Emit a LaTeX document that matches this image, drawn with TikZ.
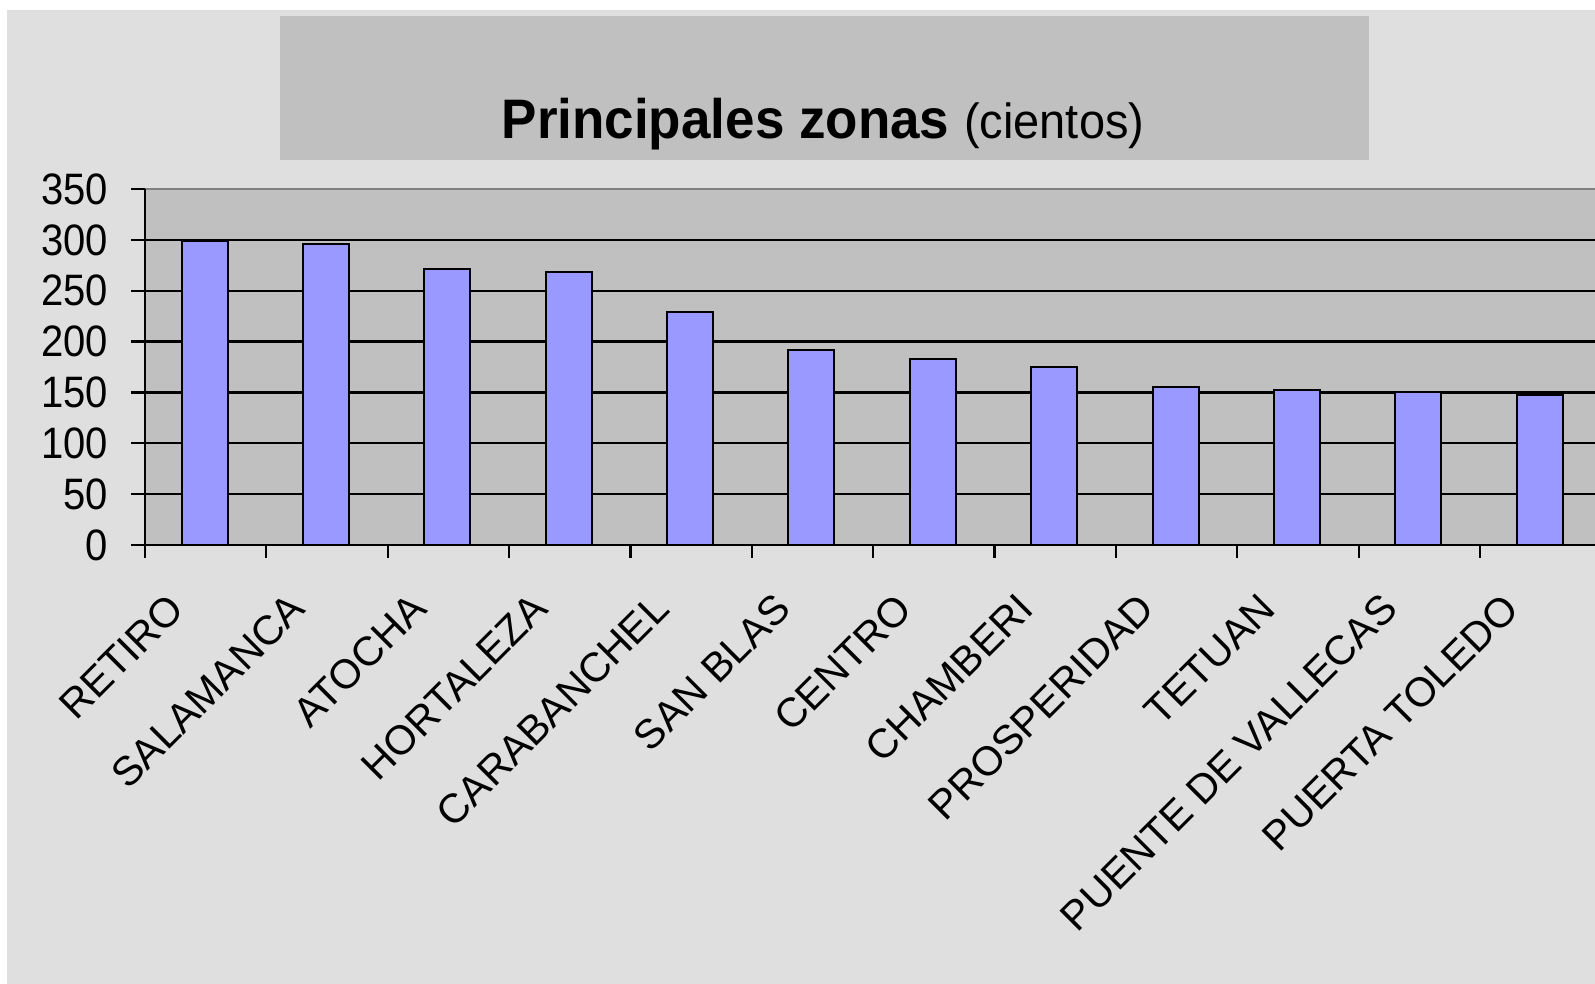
\documentclass[tikz,border=0pt]{standalone}
\usepackage{graphicx}
\usepackage{fontspec}
\setmainfont{Liberation Sans}
\definecolor{bgc}{HTML}{DFDFDF}
\definecolor{plotc}{HTML}{C0C0C0}
\definecolor{barc}{HTML}{9999FF}
\definecolor{borderc}{HTML}{808080}
\begin{document}
\begin{tikzpicture}[x=1pt,y=-1pt,
  barbox/.style={draw=black,line width=2pt,fill=barc},
  gridline/.style={draw=black,line width=2.2pt},
  axisline/.style={draw=black,line width=2.2pt},
  ylab/.style={anchor=east,inner sep=0pt,font=\fontsize{40}{40}\selectfont},
  catlab/.style={anchor=north east,rotate=45,inner sep=0pt,font=\fontsize{41}{41}\selectfont}]
\useasboundingbox (0,0) rectangle (1595,984);
\fill[white] (0,0) rectangle (1595,984);
\fill[bgc] (7,10) rectangle (1595,984);
% title
\fill[plotc] (280,16) rectangle (1369,160);
\node[anchor=base,inner sep=0pt] (title) at (823,139)
  {\scalebox{1}[1.05]{\fontsize{53}{53}\selectfont\textbf{Principales zonas} \fontsize{47}{47}\selectfont(cientos)}};
% plot area
\begin{scope}
\clip (0,0) rectangle (1595,984);
\fill[plotc] (145,189) rectangle (1610,545);
\draw[draw=borderc,line width=2pt] (145,189) -- (1610,189);
\foreach \v in {50,100,...,300} {
  \draw[gridline] (145,{545-1.01714*\v}) -- (1610,{545-1.01714*\v});
}
\foreach \lbl/\val [count=\i from 0] in {RETIRO/299,SALAMANCA/296,ATOCHA/271,HORTALEZA/268,CARABANCHEL/229.5,SAN BLAS/191.7,CENTRO/183,CHAMBERI/175.3,PROSPERIDAD/155.6,TETUAN/152.4,PUENTE DE VALLECAS/150,PUERTA TOLEDO/147.5} {
  \pgfmathsetmacro{\cx}{145+121.36*(\i+0.5)}
  \draw[barbox] ({\cx-24},545) rectangle ({\cx+22},{545-1.01714*\val});
  \node[catlab] (cat\i) at ({\cx-40},591) {\lbl};
}
\draw[axisline] (131,545) -- (1610,545);
\foreach \i in {1,...,11} {
  \draw[axisline] ({145+121.36*\i},545) -- ({145+121.36*\i},558);
}
\end{scope}
\draw[axisline] (145,189) -- (145,558);
\foreach \v in {0,50,...,350} {
  \draw[axisline] (131,{545-1.01714*\v}) -- (145,{545-1.01714*\v});
  \node[ylab] (y\v) at (108,{545-1.01714*\v}) {\scalebox{1}[1.1]{\v}};
}
\end{tikzpicture}
\end{document}
